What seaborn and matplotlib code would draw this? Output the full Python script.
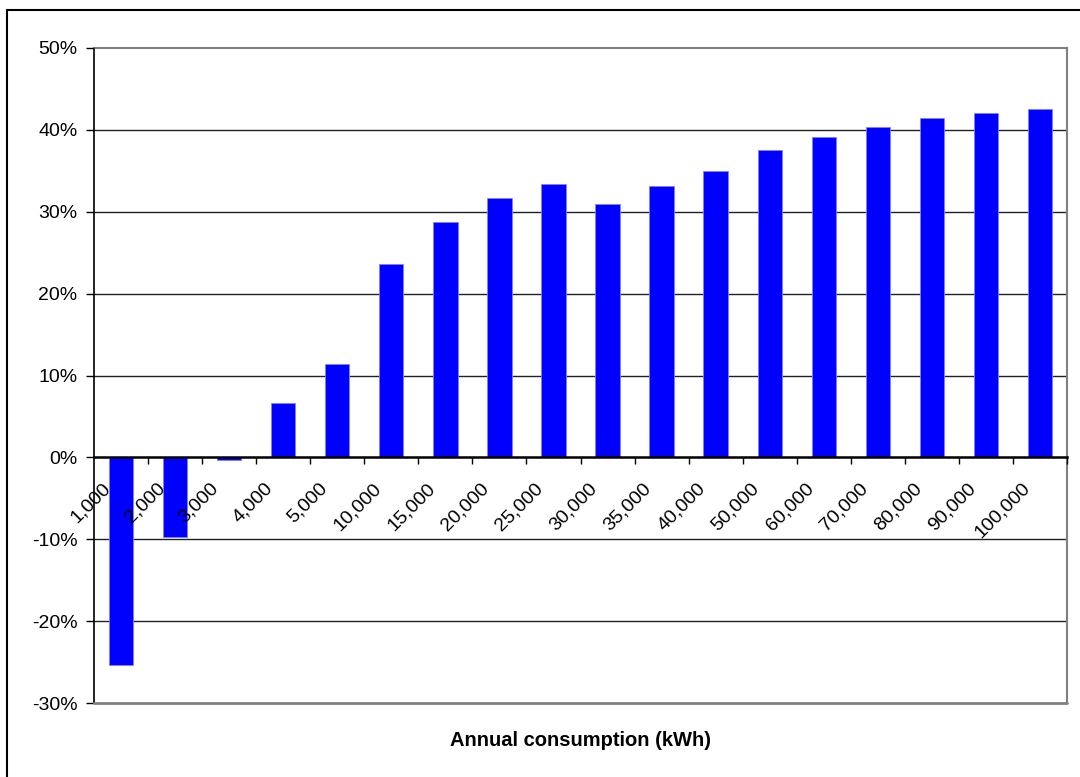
import matplotlib
matplotlib.use("Agg")
import matplotlib.pyplot as plt
from matplotlib.patches import Rectangle
import seaborn as sns
import pandas as pd

categories = ["1,000", "2,000", "3,000", "4,000", "5,000", "10,000", "15,000",
              "20,000", "25,000", "30,000", "35,000", "40,000", "50,000",
              "60,000", "70,000", "80,000", "90,000", "100,000"]
values = [-25.3, -9.7, -0.3, 6.6, 11.4, 23.6, 28.7, 31.7, 33.4, 31.0, 33.1,
          35.0, 37.5, 39.1, 40.3, 41.4, 42.1, 42.6]
y_ticks = [-30, -20, -10, 0, 10, 20, 30, 40, 50]
x_label = "Annual consumption (kWh)"

sns.set_theme(style="white")
plt.rcParams["font.family"] = ["Liberation Sans", "DejaVu Sans"]

df = pd.DataFrame({"cat": categories, "val": values})

fig = plt.figure(figsize=(10.8, 7.77), dpi=100)
ax = fig.add_axes([94 / 1080, 1 - 703 / 777, (1067 - 94) / 1080, (703 - 48) / 777])

sns.barplot(data=df, x="cat", y="val", order=categories, color="#0000FF",
            saturation=1, width=0.45, edgecolor="#8080FF", linewidth=0.6, ax=ax,
            zorder=2)

ax.set_xlim(-0.5, len(categories) - 0.5)
ax.set_ylim(-30, 50)
ax.set_yticks(y_ticks)
ax.set_yticklabels([f"{t}%" for t in y_ticks], fontsize=14, color="black")

# gridlines behind bars
for t in y_ticks[1:-1]:
    if t != 0:
        ax.axhline(t, color="#222222", linewidth=1.0, zorder=0.5)

ax.set_axisbelow(False)

# spines
ax.spines["left"].set_color("black")
ax.spines["left"].set_linewidth(1.2)
for s in ["top", "right"]:
    ax.spines[s].set_color("#808080")
    ax.spines[s].set_linewidth(1.5)
ax.spines["bottom"].set_position(("data", 0))
ax.spines["bottom"].set_color("black")
ax.spines["bottom"].set_linewidth(1.8)
ax.axhline(-30, color="#808080", linewidth=2.0, zorder=3, clip_on=False)

# ticks
ax.tick_params(axis="y", which="major", direction="out", length=6, width=1,
               color="black", pad=6, left=True)
# labels sit slightly left of each category centre (as in the original)
ax.set_xticks([i - 0.35 for i in range(len(categories))])
ax.set_xticklabels(categories, rotation=45, ha="right", va="top",
                   rotation_mode="anchor", fontsize=14, color="black")
ax.set_xticks([i - 0.5 for i in range(1, len(categories) + 1)], minor=True)
ax.tick_params(axis="x", which="major", length=0, pad=16)
ax.tick_params(axis="x", which="minor", direction="out", length=5, width=1,
               color="black", bottom=True)

ax.set_xlabel("")
ax.set_ylabel("")
fig.text((94 + 1067) / 2 / 1080, 1 - 741 / 777, x_label, ha="center",
         va="center", fontsize=14.5, fontweight="bold", color="black")

# outer frame
fig.patches.append(Rectangle((7 / 1080, -0.1), 1.2, 1 - 10 / 777 + 0.1,
                             transform=fig.transFigure, fill=False,
                             edgecolor="black", linewidth=1.5, zorder=0))

fig.savefig("out.png", dpi=100)
